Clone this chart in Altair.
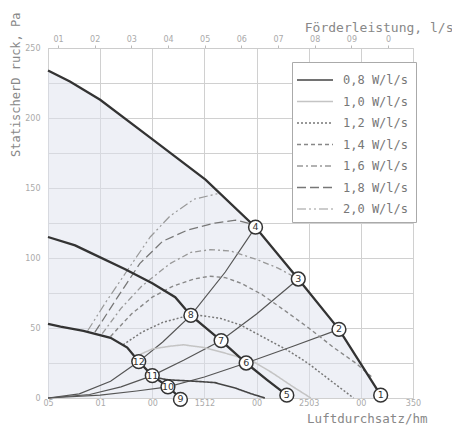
import altair as alt
import pandas as pd

# ---- fan speed curves (m3/h, Pa)
high_x = [0, 21, 50, 98, 151, 199, 240, 279, 319]
high_y = [234, 226, 213, 186, 156, 122, 85, 49, 2]
mid_x = [0, 26, 40, 74, 100, 122, 137, 166, 190, 210, 229]
mid_y = [115, 109, 104, 92, 82, 72, 59, 41, 25, 13, 2]
low_x = [0, 12, 34, 60, 76, 87, 100, 115, 127]
low_y = [53, 51, 48, 43, 36, 26, 16, 8, 0]

# ---- system curves through operating points
sysA_x = [0, 30, 60, 87, 110, 137, 170, 199]
sysA_y = [0, 3, 12, 26, 40, 59, 90, 122]
sysB_x = [0, 40, 70, 100, 130, 166, 200, 240]
sysB_y = [0, 2.5, 8, 16, 27, 41, 60, 85]
sysC_x = [0, 50, 85, 115, 150, 190, 235, 279]
sysC_y = [0, 2, 5, 8, 15, 25, 37, 49]

# ---- specific power isolines
iso_names = ["0,8 W/l/s", "1,0 W/l/s", "1,2 W/l/s", "1,4 W/l/s",
             "1,6 W/l/s", "1,8 W/l/s", "2,0 W/l/s"]
iso08_x = [100, 115, 140, 160, 180, 195, 208]
iso08_y = [15, 13, 12, 11, 7, 3, 0]
iso10_x = [85, 100, 117, 130, 150, 175, 197, 215, 235, 252]
iso10_y = [30, 35, 37, 38, 36, 31, 26, 18, 8, 0]
iso12_x = [72, 90, 110, 130, 145, 165, 185, 210, 230, 249, 270, 293]
iso12_y = [38, 47, 54, 58, 59, 57, 52, 42, 34, 25, 13, 0]
iso14_x = [60, 80, 100, 120, 140, 155, 170, 185, 205, 226, 250, 274, 295, 312]
iso14_y = [44, 60, 72, 80, 85, 87, 86, 82, 74, 63, 50, 36, 25, 14]
iso16_x = [52, 70, 90, 117, 137, 156, 175, 200, 220, 240]
iso16_y = [46, 64, 80, 96, 104, 106, 105, 99, 93, 85]
iso18_x = [45, 65, 88, 110, 134, 160, 180, 197]
iso18_y = [47, 70, 96, 112, 120, 125, 127, 124]
iso20_x = [38, 55, 75, 98, 117, 140, 163]
iso20_y = [48, 68, 90, 115, 130, 142, 146]
iso_colors = ["#444444", "#c4c4c4", "#777777", "#888888", "#999999", "#777777", "#999999"]
iso_dashes = [[1, 0], [1, 0], [2, 2], [4, 3], [6, 3, 2, 3], [9, 4], [9, 3, 2, 3, 2, 3]]
iso_widths = [1.6, 1.2, 1.4, 1.4, 1.3, 1.5, 1.3]

# ---- numbered operating points
pt_x = [319, 279, 240, 199, 229, 190, 166, 137, 127, 115, 100, 87]
pt_y = [2, 49, 85, 122, 2, 25, 41, 59, -1, 8, 16, 26]
pt_label = ["1", "2", "3", "4", "5", "6", "7", "8", "9", "10", "11", "12"]

# ---- axis labels (as printed)
x_ticks = [0, 50, 100, 150, 200, 250, 300, 350]
x_labels = ["05", "01", "00", "1512", "00", "2503", "00", "350"]
top_ticks = [10, 20, 30, 40, 50, 60, 70, 80, 90, 100]
top_labels = ["01", "02", "03", "04", "05", "06", "07", "08", "09", "0"]
y_ticks = [0, 25, 50, 75, 100, 125, 150, 175, 200, 225, 250]

MONO = "DejaVu Sans Mono"

def curve(name, xs, ys):
    return pd.DataFrame({"curve": name, "x": xs, "y": ys})

speed_df = pd.concat([curve("high", high_x, high_y), curve("mid", mid_x, mid_y),
                      curve("low", low_x, low_y)])
sys_df = pd.concat([curve("A", sysA_x, sysA_y), curve("B", sysB_x, sysB_y),
                    curve("C", sysC_x, sysC_y)])
iso_list = [(iso08_x, iso08_y), (iso10_x, iso10_y), (iso12_x, iso12_y), (iso14_x, iso14_y),
            (iso16_x, iso16_y), (iso18_x, iso18_y), (iso20_x, iso20_y)]
iso_df = pd.concat([curve(n, xs, ys) for n, (xs, ys) in zip(iso_names, iso_list)])
area_df = curve("high", high_x, high_y)
pt_df = pd.DataFrame({"x": pt_x, "y": pt_y, "label": pt_label})
top_df = pd.DataFrame({"ls": top_ticks})

x_label_expr = "[" + ",".join("'%s'" % s for s in x_labels) + "][round(datum.value/50)]"
top_label_expr = "[" + ",".join("'%s'" % s for s in top_labels) + "][round(datum.value/10)-1]"

xscale = alt.Scale(domain=[0, 350], nice=False, zero=False)
yscale = alt.Scale(domain=[0, 250], nice=False, zero=False)

X = alt.X("x:Q", scale=xscale, axis=alt.Axis(
    values=x_ticks, labelExpr=x_label_expr, grid=True, ticks=False, domain=False,
    labelPadding=1, labelFontSize=8, labelColor="#aaaaaa", labelFont="DejaVu Sans",
    title="Luftdurchsatz/hm", titleFont=MONO, titleFontSize=12.5, titleFontWeight="normal",
    titleColor="#888888", titleAlign="right", titleX=379, titleY=20, titleBaseline="middle",
    labelFlush=False))
Y = alt.Y("y:Q", scale=yscale, axis=alt.Axis(
    values=y_ticks, labelExpr="datum.value % 50 == 0 ? datum.label : ''", grid=True,
    ticks=False, domain=False, labelPadding=8, labelFontSize=8, labelColor="#aaaaaa",
    labelFont="DejaVu Sans",
    title="StatischerD ruck, Pa", titleFont=MONO, titleFontSize=12, titleFontWeight="normal",
    titleColor="#888888", titleAngle=-90, titleAlign="right", titleX=-33, titleY=-36,
    titleBaseline="middle"))

area = alt.Chart(area_df).mark_area(color="#dde2ee", opacity=0.5).encode(x=X, y=Y)

sys_lines = alt.Chart(sys_df).mark_line(color="#555555", strokeWidth=1.2).encode(
    x=X, y=Y, detail="curve:N")

iso_lines = alt.Chart(iso_df).mark_line().encode(
    x=X, y=Y,
    color=alt.Color("curve:N", scale=alt.Scale(domain=iso_names, range=iso_colors),
                    legend=alt.Legend(title=None)),
    strokeDash=alt.StrokeDash("curve:N", scale=alt.Scale(domain=iso_names, range=iso_dashes),
                              legend=alt.Legend(title=None)),
    strokeWidth=alt.StrokeWidth("curve:N", scale=alt.Scale(domain=iso_names, range=iso_widths),
                                legend=None),
)

speed_lines = alt.Chart(speed_df).mark_line(color="#333333", strokeWidth=2.3).encode(
    x=X, y=Y, detail="curve:N")

pts = alt.Chart(pt_df).mark_point(shape="circle", filled=True, fill="white", stroke="#333333",
                                   strokeWidth=1.5, size=190, opacity=1).encode(x=X, y=Y)
pt_text = alt.Chart(pt_df).mark_text(fontSize=9.5, color="#333333", font="DejaVu Sans").encode(
    x=X, y=Y, text="label:N")

main = alt.layer(area, sys_lines, iso_lines, speed_lines, pts, pt_text)

top_layer = alt.Chart(top_df).mark_point(opacity=0).encode(
    x=alt.X("ls:Q", scale=alt.Scale(domain=[7.27, 106.8], nice=False, zero=False),
            axis=alt.Axis(orient="top", values=top_ticks, labelExpr=top_label_expr, grid=False,
                          ticks=True, tickSize=3, tickColor="#bbbbbb", domain=True,
                          domainColor="#cccccc", labelFontSize=8, labelColor="#aaaaaa",
                          labelFont="DejaVu Sans", labelPadding=2, labelFlush=False,
                          title="Förderleistung, l/s", titleFont=MONO, titleFontSize=13,
                          titleFontWeight="normal", titleColor="#888888", titleAlign="right",
                          titleX=405, titleY=-21, titleBaseline="middle")))

chart = alt.layer(main, top_layer).resolve_scale(x="independent").properties(
    width=365, height=350,
    padding={"left": 40, "top": 40, "right": 39, "bottom": 28},
    autosize=alt.AutoSizeParams(type="none"),
).configure_view(stroke="#cccccc").configure_axis(
    gridColor="#d0d0d0", gridWidth=1
).configure_legend(
    orient="none", legendX=244, legendY=14,
    symbolType="M-1.8,0H1.8", symbolSize=400, symbolStrokeWidth=1.6,
    labelFont=MONO, labelFontSize=12, labelColor="#777777", labelOffset=17,
    strokeColor="#aaaaaa", fillColor="white", padding=7, rowPadding=4.5,
    symbolOffset=5,
)

chart.save("out.html", embed_options={"renderer": "svg", "actions": False})
